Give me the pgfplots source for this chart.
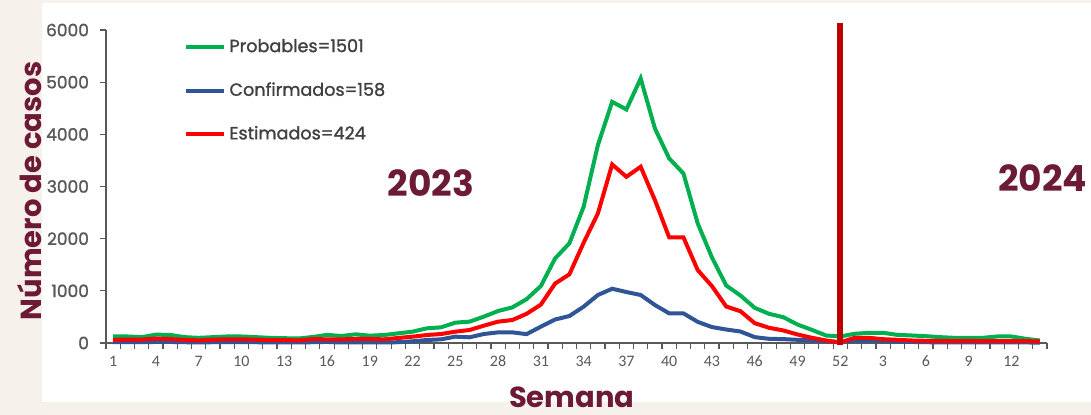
\documentclass[border=0pt]{standalone}
\usepackage{pgfplots}
\pgfplotsset{compat=1.18}
\usepackage{pgfplotstable}
\usepackage{fontspec}
\newfontfamily\pop{Poppins}
\newfontfamily\popm[FakeBold=1.3]{Poppins}
\newfontfamily\carl{Carlito}
\definecolor{verde}{HTML}{00B050}
\definecolor{azul}{HTML}{2F5597}
\definecolor{rojo}{HTML}{FF0000}
\definecolor{rojoosc}{HTML}{C00000}
\definecolor{guinda}{HTML}{6C1A35}
\definecolor{gristxt}{HTML}{595959}
\definecolor{grisleg}{HTML}{404040}
\definecolor{fondo}{HTML}{F6F1EA}

% semana (indice), probables, confirmados, estimados
\pgfplotstableread{
i  prob  conf  est
1  125   15    60
2  125   15    65
3  112   15    65
4  160   20    85
5  155   20    75
6  112   15    60
7  99    10    50
8  112   15    65
9  125   15    70
10 125   15    70
11 112   15    65
12 99    10    55
13 92    10    55
14 86    10    50
15 115   15    75
16 155   20    70
17 134   10    70
18 166   10    77
19 140   10    77
20 153   10    70
21 185   15    96
22 217   32    121
23 281   57    153
24 300   70    172
25 390   121   217
26 409   109   249
27 505   172   332
28 613   204   409
29 683   204   440
30 840   170   560
31 1092  313   735
32 1622  450   1140
33 1910  517   1316
34 2611  696   1922
35 3793  920   2484
36 4623  1040  3423
37 4477  977   3186
38 5071  920   3378
39 4112  728   2739
40 3538  568   2025
41 3250  568   2025
42 2293  405   1398
43 1640  305   1090
44 1102  259   700
45 910   220   609
46 674   112   380
47 559   80    292
48 495   74    240
49 354   61    163
50 252   48    100
51 144   35    48
52 125   16    10
53 176   48    99
54 195   45    99
55 195   35    73
56 156   25    61
57 144   20    48
58 131   15    42
59 112   12    42
60 99    10    36
61 99    10    42
62 99    10    36
63 125   10    36
64 125   10    36
65 80    10    36
66 48    8     29
}\datos

\begin{document}
\begin{tikzpicture}
\useasboundingbox (-53pt,-36pt) rectangle (492.5pt,171.5pt);
\fill[fondo] (-53pt,-36pt) rectangle (492.5pt,171.5pt);
\fill[white] (-32pt,-29.5pt) rectangle (492.5pt,170pt);
\begin{axis}[
  scale only axis,
  width=470.5pt,
  height=156.5pt,
  xmin=0.5, xmax=66.5,
  ymin=0, ymax=6000,
  clip=false,
  axis x line*=bottom,
  axis y line*=left,
  axis line style={-, draw=gristxt, line width=0.75pt},
  tick align=outside,
  major tick length=3pt,
  minor tick length=3pt,
  tick style={draw=gristxt, line width=0.6pt},
  xtick={1,4,...,64},
  xticklabels={1,4,7,10,13,16,19,22,25,28,31,34,37,40,43,46,49,52,3,6,9,12},
  minor xtick={0.5,1.5,...,66.5},
  major x tick style={draw=none},
  ytick={0,1000,...,6000},
  /pgf/number format/1000 sep={},
  /pgf/number format/assume math mode=true,
  xticklabel style={font=\carl\fontsize{8}{9}\selectfont, text=gristxt},
  yticklabel style={font=\popm\fontsize{8.5}{10}\selectfont, text=gristxt, xshift=-2pt},
  ylabel={Número de casos},
  ylabel style={font=\pop\bfseries\fontsize{14.5}{16}\selectfont, text=guinda,
    at={(axis description cs:-0.0808,0.486)}, anchor=center},
  xlabel={Semana},
  xlabel style={font=\pop\bfseries\fontsize{14.5}{16}\selectfont, text=guinda,
    at={(axis description cs:0.495,-0.173)}, anchor=center},
  legend style={draw=none, fill=none, at={(axis description cs:0.083,0.985)},
    anchor=north west, font=\popm\fontsize{8.8}{10}\selectfont, text=grisleg,
    row sep=9.6pt, inner sep=0pt, nodes={inner xsep=1.5pt}},
  legend cell align=left,
  legend image code/.code={\draw[#1] (0pt,0pt) -- (19pt,0pt);},
  ]
  \addplot[verde, line width=2pt] table[x=i, y=prob] {\datos};
  \addlegendentry{Probables=1501}
  \addplot[azul, line width=2pt] table[x=i, y=conf] {\datos};
  \addlegendentry{Confirmados=158}
  \addplot[rojo, line width=2pt] table[x=i, y=est] {\datos};
  \addlegendentry{Estimados=424}
  \addplot[rojoosc, line width=2.8pt, forget plot] coordinates {(52,-40) (52,6130)};
  \node[font=\pop\bfseries\fontsize{18}{20}\selectfont, text=guinda] at (axis cs:23.3,3065) {2023};
  \node[font=\pop\bfseries\fontsize{18}{20}\selectfont, text=guinda] at (axis cs:66.2,3160) {2024};
\end{axis}
\end{tikzpicture}
\end{document}
